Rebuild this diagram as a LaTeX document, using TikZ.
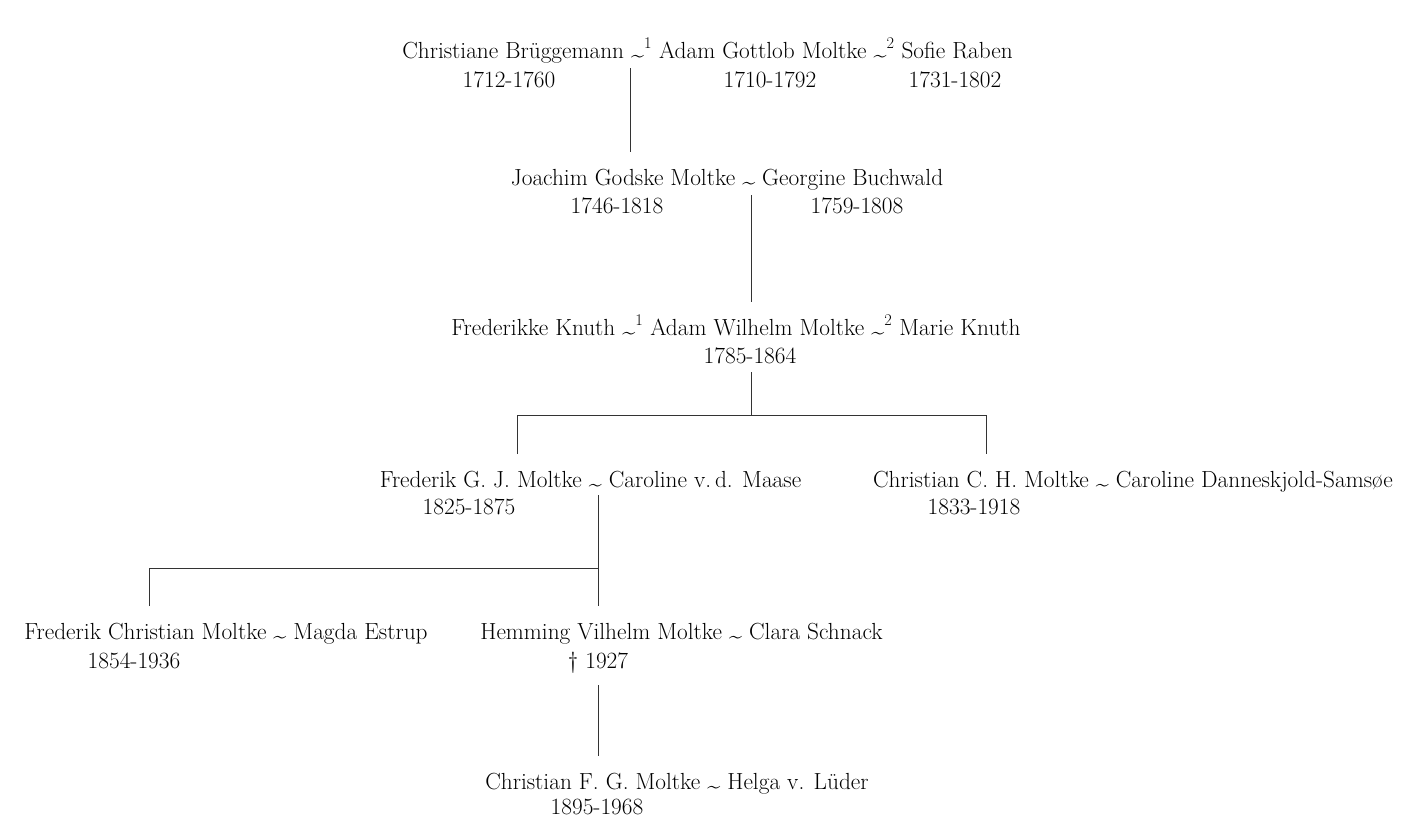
\documentclass[tikz,border=0pt]{standalone}
\usepackage{fontspec}
\newcommand\sw{\raisebox{-0.4ex}{\textasciitilde}}
\newcommand\sups[1]{\textsuperscript{#1}}
\tikzset{
  txt/.style={inner sep=0pt, outer sep=0pt, text height=15pt, text depth=5pt,
    font=\fontsize{23.3}{28}\selectfont, text=black},
  nm/.style={txt, outer ysep=18pt},
  dt/.style={txt},
  conn/.style={line width=0.8pt, draw=black!80},
}
\begin{document}
\begin{tikzpicture}[x=1pt,y=-1pt]
\useasboundingbox (0,0) rectangle (1402,819);
% row 1
\node[nm] (r1) at (707.5,53) {Christiane Brüggemann \sw\sups{1} Adam Gottlob Moltke \sw\sups{2} Sofie Raben};
\node[dt] (d1a) at (509,82) {1712-1760};
\node[dt] (d1b) at (770,82) {1710-1792};
\node[dt] (d1c) at (955,82) {1731-1802};
% row 2
\node[nm] (r2) at (727,180) {Joachim Godske Moltke \sw{} Georgine Buchwald};
\node[dt] (d2a) at (617,208) {1746-1818};
\node[dt] (d2b) at (857,208) {1759-1808};
% row 3
\node[nm] (r3) at (736,330) {Frederikke Knuth \sw\sups{1} Adam Wilhelm Moltke \sw\sups{2} Marie Knuth};
\node[dt] (d3) at (750,358) {1785-1864};
% row 4
\node[nm] (r4a) at (590.5,482) {Frederik G. J. Moltke \sw{} Caroline v.\,d. Maase};
\node[dt] (d4a) at (469,509) {1825-1875};
\node[nm] (r4b) at (1133,482) {Christian C. H. Moltke \sw{} Caroline Danneskjold-Samsøe};
\node[dt] (d4b) at (974,509) {1833-1918};
% row 5
\node[nm] (r5a) at (226,634) {Frederik Christian Moltke \sw{} Magda Estrup};
\node[dt] (d5a) at (134,663) {1854-1936};
\node[nm] (r5b) at (681.5,634) {Hemming Vilhelm Moltke \sw{} Clara Schnack};
\node[dt] (d5b) at (598,663) {\textdagger{} 1927};
% row 6
\node[nm] (r6) at (677,784) {Christian F. G. Moltke \sw{} Helga v. Lüder};
\node[dt] (d6) at (597,809) {1895-1968};
% connectors
\coordinate (t1) at (630,68);
\coordinate (t2) at (751,195);
\coordinate (t3) at (751,372);
\coordinate (j3l) at (517,415);
\coordinate (j3r) at (986,415);
\coordinate (t4) at (598,495);
\coordinate (j4) at (149,568);
\coordinate (t5) at (598,685);
\draw[conn] (t1) -- (t1 |- r2.north);
\draw[conn] (t2) -- (t2 |- r3.north);
\draw[conn] (t3) -- (t3 |- j3l);
\draw[conn] (j3l |- r4a.north) -- (j3l) -- (j3r) -- (j3r |- r4b.north);
\draw[conn] (t4) -- (t4 |- r5b.north);
\draw[conn] (j4 |- r5a.north) -- (j4) -- (j4 -| t4);
\draw[conn] (t5) -- (t5 |- r6.north);
\end{tikzpicture}
\end{document}
